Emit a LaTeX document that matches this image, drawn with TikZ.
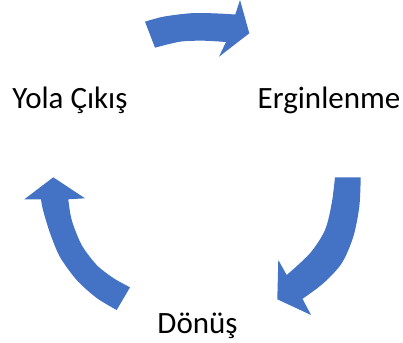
\documentclass[tikz,border=0pt]{standalone}
\usepackage{fontspec}
\setmainfont{Carlito}
\definecolor{arrowblue}{HTML}{4472C4}
\begin{document}
\begin{tikzpicture}[x=1pt,y=-1pt,
  blockarrow/.style={fill=arrowblue,draw=none},
  steplabel/.style={font=\fontsize{31}{37}\selectfont, inner sep=0pt, anchor=base}]
\useasboundingbox (0,0) rectangle (403,342);
\node[steplabel] (yola) at (70,108) {Yola Çıkış};
\node[steplabel] (ergin) at (329,108) {Erginlenme};
\node[steplabel] (donus) at (197.5,333) {Dönüş};
% top arrow
\fill[blockarrow] plot[smooth] coordinates {(145,21.7) (163.3,16.7) (190,13.3) (213.3,13.3) (235.3,14.5)}
  -- (240,0) -- (249.3,33.3) -- (219,56.7)
  -- plot[smooth] coordinates {(226,42) (203.3,40.7) (180,41.7) (155,47.7)} -- cycle;
% right arrow
\fill[blockarrow] plot[smooth] coordinates {(360.7,177.3) (359.3,206.7) (353.3,236.7) (341.7,263.3) (323.3,283.3) (302.5,298.8)}
  -- (311,315) -- (277.3,299.3) -- (278.3,260)
  -- plot[smooth] coordinates {(286.7,275) (310,253.3) (325,230) (331.7,203.3) (335,177.3)} -- cycle;
% left arrow
\fill[blockarrow] plot[smooth] coordinates {(116.7,310) (96.7,298) (76.7,280) (60,257) (50,233) (43,210) (41,199.3)}
  -- (24.3,199.3) -- (53.3,177.3) -- (85,198.3)
  -- plot[smooth] coordinates {(68.3,199.3) (71.7,220) (81.7,245) (96.7,265) (113.3,278) (130,287.3)} -- cycle;
\end{tikzpicture}
\end{document}
